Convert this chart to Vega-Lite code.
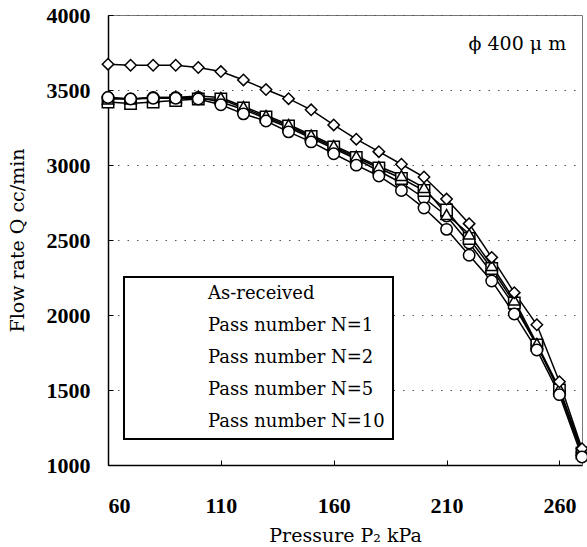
{
  "$schema": "https://vega.github.io/schema/vega-lite/v6.json",
  "autosize": {"type": "none"},
  "width": 474,
  "height": 450,
  "padding": {"left": 108, "top": 15, "right": 5, "bottom": 82},
  "background": "white",
  "config": {
    "view": {"stroke": "#777", "strokeWidth": 1},
    "legend": {"strokeWidth": 2},
    "axis": {
      "domainColor": "black", "domainWidth": 1.5,
      "tickColor": "black", "tickWidth": 1, "tickSize": -5,
      "labelFont": "Liberation Serif", "labelFontWeight": "bold", "labelFontSize": 22, "labelColor": "black",
      "titleFont": "DejaVu Serif", "titleFontWeight": "normal", "titleFontSize": 19, "titleColor": "black"
    }
  },
  "datasets": {
    "flow": [
      {"series": "As-received", "P": 60, "Q": 3450}, {"series": "As-received", "P": 70, "Q": 3440}, {"series": "As-received", "P": 80, "Q": 3450}, {"series": "As-received", "P": 90, "Q": 3450}, {"series": "As-received", "P": 100, "Q": 3450}, {"series": "As-received", "P": 110, "Q": 3420}, {"series": "As-received", "P": 120, "Q": 3370}, {"series": "As-received", "P": 130, "Q": 3310}, {"series": "As-received", "P": 140, "Q": 3250}, {"series": "As-received", "P": 150, "Q": 3180}, {"series": "As-received", "P": 160, "Q": 3110}, {"series": "As-received", "P": 170, "Q": 3040}, {"series": "As-received", "P": 180, "Q": 2960}, {"series": "As-received", "P": 190, "Q": 2880}, {"series": "As-received", "P": 200, "Q": 2780}, {"series": "As-received", "P": 210, "Q": 2660}, {"series": "As-received", "P": 220, "Q": 2480}, {"series": "As-received", "P": 230, "Q": 2280}, {"series": "As-received", "P": 240, "Q": 2060}, {"series": "As-received", "P": 250, "Q": 1800}, {"series": "As-received", "P": 260, "Q": 1490}, {"series": "As-received", "P": 270, "Q": 1080},
      {"series": "Pass number N=1", "P": 60, "Q": 3420}, {"series": "Pass number N=1", "P": 70, "Q": 3410}, {"series": "Pass number N=1", "P": 80, "Q": 3420}, {"series": "Pass number N=1", "P": 90, "Q": 3430}, {"series": "Pass number N=1", "P": 100, "Q": 3440}, {"series": "Pass number N=1", "P": 110, "Q": 3440}, {"series": "Pass number N=1", "P": 120, "Q": 3380}, {"series": "Pass number N=1", "P": 130, "Q": 3320}, {"series": "Pass number N=1", "P": 140, "Q": 3260}, {"series": "Pass number N=1", "P": 150, "Q": 3190}, {"series": "Pass number N=1", "P": 160, "Q": 3120}, {"series": "Pass number N=1", "P": 170, "Q": 3050}, {"series": "Pass number N=1", "P": 180, "Q": 2980}, {"series": "Pass number N=1", "P": 190, "Q": 2910}, {"series": "Pass number N=1", "P": 200, "Q": 2830}, {"series": "Pass number N=1", "P": 210, "Q": 2700}, {"series": "Pass number N=1", "P": 220, "Q": 2510}, {"series": "Pass number N=1", "P": 230, "Q": 2310}, {"series": "Pass number N=1", "P": 240, "Q": 2080}, {"series": "Pass number N=1", "P": 250, "Q": 1800}, {"series": "Pass number N=1", "P": 260, "Q": 1500}, {"series": "Pass number N=1", "P": 270, "Q": 1080},
      {"series": "Pass number N=2", "P": 60, "Q": 3440}, {"series": "Pass number N=2", "P": 70, "Q": 3440}, {"series": "Pass number N=2", "P": 80, "Q": 3450}, {"series": "Pass number N=2", "P": 90, "Q": 3450}, {"series": "Pass number N=2", "P": 100, "Q": 3460}, {"series": "Pass number N=2", "P": 110, "Q": 3450}, {"series": "Pass number N=2", "P": 120, "Q": 3390}, {"series": "Pass number N=2", "P": 130, "Q": 3330}, {"series": "Pass number N=2", "P": 140, "Q": 3270}, {"series": "Pass number N=2", "P": 150, "Q": 3200}, {"series": "Pass number N=2", "P": 160, "Q": 3130}, {"series": "Pass number N=2", "P": 170, "Q": 3060}, {"series": "Pass number N=2", "P": 180, "Q": 2990}, {"series": "Pass number N=2", "P": 190, "Q": 2930}, {"series": "Pass number N=2", "P": 200, "Q": 2850}, {"series": "Pass number N=2", "P": 210, "Q": 2670}, {"series": "Pass number N=2", "P": 220, "Q": 2540}, {"series": "Pass number N=2", "P": 230, "Q": 2330}, {"series": "Pass number N=2", "P": 240, "Q": 2100}, {"series": "Pass number N=2", "P": 250, "Q": 1810}, {"series": "Pass number N=2", "P": 260, "Q": 1510}, {"series": "Pass number N=2", "P": 270, "Q": 1100},
      {"series": "Pass number N=5", "P": 60, "Q": 3672}, {"series": "Pass number N=5", "P": 70, "Q": 3665}, {"series": "Pass number N=5", "P": 80, "Q": 3665}, {"series": "Pass number N=5", "P": 90, "Q": 3665}, {"series": "Pass number N=5", "P": 100, "Q": 3650}, {"series": "Pass number N=5", "P": 110, "Q": 3623}, {"series": "Pass number N=5", "P": 120, "Q": 3567}, {"series": "Pass number N=5", "P": 130, "Q": 3503}, {"series": "Pass number N=5", "P": 140, "Q": 3442}, {"series": "Pass number N=5", "P": 150, "Q": 3368}, {"series": "Pass number N=5", "P": 160, "Q": 3267}, {"series": "Pass number N=5", "P": 170, "Q": 3172}, {"series": "Pass number N=5", "P": 180, "Q": 3089}, {"series": "Pass number N=5", "P": 190, "Q": 3005}, {"series": "Pass number N=5", "P": 200, "Q": 2920}, {"series": "Pass number N=5", "P": 210, "Q": 2773}, {"series": "Pass number N=5", "P": 220, "Q": 2609}, {"series": "Pass number N=5", "P": 230, "Q": 2384}, {"series": "Pass number N=5", "P": 240, "Q": 2149}, {"series": "Pass number N=5", "P": 250, "Q": 1935}, {"series": "Pass number N=5", "P": 260, "Q": 1555}, {"series": "Pass number N=5", "P": 270, "Q": 1109},
      {"series": "Pass number N=10", "P": 60, "Q": 3450}, {"series": "Pass number N=10", "P": 70, "Q": 3440}, {"series": "Pass number N=10", "P": 80, "Q": 3445}, {"series": "Pass number N=10", "P": 90, "Q": 3445}, {"series": "Pass number N=10", "P": 100, "Q": 3440}, {"series": "Pass number N=10", "P": 110, "Q": 3402}, {"series": "Pass number N=10", "P": 120, "Q": 3341}, {"series": "Pass number N=10", "P": 130, "Q": 3293}, {"series": "Pass number N=10", "P": 140, "Q": 3221}, {"series": "Pass number N=10", "P": 150, "Q": 3154}, {"series": "Pass number N=10", "P": 160, "Q": 3075}, {"series": "Pass number N=10", "P": 170, "Q": 2999}, {"series": "Pass number N=10", "P": 180, "Q": 2927}, {"series": "Pass number N=10", "P": 190, "Q": 2830}, {"series": "Pass number N=10", "P": 200, "Q": 2713}, {"series": "Pass number N=10", "P": 210, "Q": 2571}, {"series": "Pass number N=10", "P": 220, "Q": 2398}, {"series": "Pass number N=10", "P": 230, "Q": 2227}, {"series": "Pass number N=10", "P": 240, "Q": 2007}, {"series": "Pass number N=10", "P": 250, "Q": 1767}, {"series": "Pass number N=10", "P": 260, "Q": 1469}, {"series": "Pass number N=10", "P": 270, "Q": 1053}
    ],
    "note": [{"P": 263, "Q": 3805, "label": "ϕ 400 μ m"}]
  },
  "layer": [
    {
      "data": {"name": "flow"},
      "mark": {"type": "line", "color": "black", "strokeWidth": 1.5},
      "encoding": {
        "x": {"field": "P", "type": "quantitative", "scale": {"domain": [60, 270], "nice": false},
          "axis": {"values": [60, 110, 160, 210, 260], "grid": false, "labelPadding": 35, "format": "d", "title": "Pressure P₂  kPa", "titleY": 70, "titleBaseline": "middle"}},
        "y": {"field": "Q", "type": "quantitative", "scale": {"domain": [1000, 4000], "nice": false},
          "axis": {"values": [1000, 1500, 2000, 2500, 3000, 3500, 4000], "format": "d", "grid": true, "gridColor": "#555", "gridDash": [1.5, 8], "gridWidth": 1.2, "labelPadding": 23, "title": "Flow rate Q  cc/min", "titleX": -91, "titleAngle": -90, "titleBaseline": "middle"}},
        "detail": {"field": "series", "type": "nominal"}
      }
    },
    {
      "data": {"name": "flow"},
      "mark": {"type": "point", "filled": true, "fill": "white", "stroke": "black", "strokeWidth": 1.5, "opacity": 1, "size": 130},
      "encoding": {
        "x": {"field": "P", "type": "quantitative"},
        "y": {"field": "Q", "type": "quantitative"},
        "shape": {"field": "series", "type": "nominal",
          "scale": {"domain": ["As-received", "Pass number N=1", "Pass number N=2", "Pass number N=5", "Pass number N=10"], "range": ["circle", "square", "triangle-up", "diamond", "circle"]},
          "legend": {
            "orient": "none", "legendX": 16, "legendY": 262, "title": null,
            "padding": 8, "strokeColor": "black", "fillColor": "white",
            "symbolSize": 130, "symbolOffset": 38, "labelOffset": 20, "rowPadding": 14,
            "symbolFillColor": "white", "symbolStrokeColor": "black", "symbolStrokeWidth": 1.5,
            "labelFont": "DejaVu Serif", "labelFontSize": 18, "labelColor": "black", "labelLimit": 400
          }}
      }
    },
    {
      "data": {"name": "note"},
      "mark": {"type": "text", "font": "DejaVu Serif", "fontSize": 19, "align": "right", "baseline": "middle", "color": "black"},
      "encoding": {
        "x": {"field": "P", "type": "quantitative"},
        "y": {"field": "Q", "type": "quantitative"},
        "text": {"field": "label"}
      }
    }
  ]
}
